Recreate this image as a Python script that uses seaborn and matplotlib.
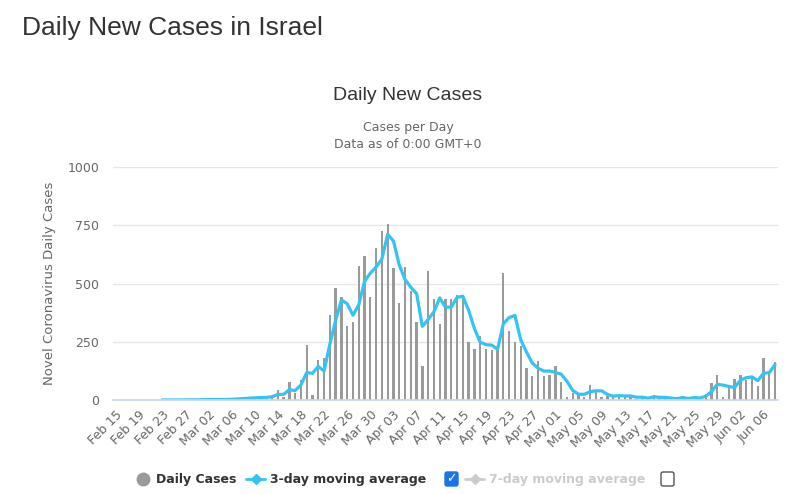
import numpy as np
import pandas as pd

import matplotlib
matplotlib.use("Agg")
import matplotlib.pyplot as plt
import seaborn as sns
from matplotlib.lines import Line2D
from matplotlib.patches import FancyBboxPatch
from matplotlib.transforms import IdentityTransform

# ---- data (Feb 15 .. Jun 08, 2020) ----
start_date = "2020-02-15"
end_date = "2020-06-08"
daily_cases = [
    None, None, None, None, None, None,                       # Feb 15-20
    1, 0, 0, 0, 0, 0, 1, 1, 0,                                # Feb 21-29
    3, 2, 1, 2, 4, 3, 6, 9, 8,                                # Mar 01-09
    10, 14, 9, 19, 43, 11, 79, 31, 85, 237,                   # Mar 10-19
    22, 172, 180, 366, 481, 440, 318, 334, 573, 620, 440, 652, 724, 757,  # Mar 20 - Apr 02
    566, 416, 570, 466, 334, 148, 555, 433, 327, 435, 434, 452, 450, 251,
    219, 274, 219, 214, 220, 545, 297, 247, 233, 139, 105, 166, 101, 106, 148,  # Apr 03 - May 01
    79, 14, 29, 32, 12, 63, 43, 12, 17, 20, 19, 13, 20, 3, 13, 7, 20, 9, 4,
    12, 1, 17, 2, 12, 12, 24, 72, 106, 14, 55, 92, 109, 86, 103, 60, 182, 110, 165,  # May 02 - Jun 08
]
tick_step = 4
y_ticks = [0, 250, 500, 750, 1000]

BAR_COLOR = "#9a9a9a"
LINE_COLOR = "#33c3f5"
TEXT_DARK = "#333333"
TEXT_MID = "#666666"
CHART_FONT = ["DejaVu Sans"]

dates = pd.date_range(start_date, end_date)
df = pd.DataFrame({"pos": np.arange(len(dates)),
                   "cases": pd.to_numeric(pd.Series(daily_cases), errors="coerce")})
df["ma3"] = df["cases"].rolling(3).mean()

sns.set_theme(style="white")
plt.rcParams["font.family"] = ["Liberation Sans", "DejaVu Sans"]

W, H = 800, 494
fig = plt.figure(figsize=(W / 100, H / 100), dpi=100)
fig.patch.set_facecolor("white")
ax = fig.add_axes([113 / W, 1 - 400 / H, (778 - 113) / W, (400 - 167) / H])

sns.barplot(data=df, x="pos", y="cases", native_scale=True, color=BAR_COLOR,
            width=0.4, saturation=1, edgecolor="none", ax=ax)
sns.lineplot(data=df, x="pos", y="ma3", color=LINE_COLOR, linewidth=2.3, ax=ax, legend=False)

ax.set_xlim(-0.5, len(dates) - 0.5)
ax.set_ylim(0, 1000)
ax.set_yticks(y_ticks)
ax.set_yticklabels([str(v) for v in y_ticks], color=TEXT_MID, fontsize=9, family=CHART_FONT)
ticks = list(range(0, len(dates), tick_step))
ax.set_xticks(ticks)
ax.set_xticklabels([dates[i].strftime("%b %d") for i in ticks], rotation=45, ha="right",
                   rotation_mode="anchor", color=TEXT_MID, fontsize=9, family=CHART_FONT)
ax.tick_params(axis="x", length=0, pad=6)
ax.tick_params(axis="y", length=0, pad=10)
ax.set_xlabel("")
ax.set_ylabel("Novel Coronavirus Daily Cases", color=TEXT_MID, fontsize=9.5,
              family=CHART_FONT, labelpad=8)
ax.grid(axis="y", color="#e6e6e6", linewidth=1)
ax.set_axisbelow(True)
for side in ("top", "right", "left"):
    ax.spines[side].set_visible(False)
ax.spines["bottom"].set_color("#ccd6eb")

# titles
fig.text(22 / W, 1 - 28 / H, "Daily New Cases in Israel", fontsize=19, color=TEXT_DARK, va="center")
fig.text(408 / W, 1 - 95 / H, "Daily New Cases", fontsize=14, color=TEXT_DARK, ha="center", va="center")
fig.text(408 / W, 1 - 128 / H, "Cases per Day", fontsize=9, color=TEXT_MID, ha="center", va="center",
         family=CHART_FONT)
fig.text(408 / W, 1 - 145 / H, "Data as of 0:00 GMT+0", fontsize=9, color=TEXT_MID, ha="center",
         va="center", family=CHART_FONT)

# legend (drawn by hand, with checkboxes)
ly = 1 - 479 / H
leg_kw = dict(fontsize=9, fontweight="bold", va="center", family=CHART_FONT)
fig.add_artist(Line2D([143 / W], [ly], marker="o", markersize=9, color=BAR_COLOR, linestyle="none"))
fig.text(156 / W, ly, "Daily Cases", color=TEXT_DARK, **leg_kw)
fig.add_artist(Line2D([246 / W, 265 / W], [ly, ly], color=LINE_COLOR, linewidth=2))
fig.add_artist(Line2D([255.5 / W], [ly], marker="D", markersize=5, color=LINE_COLOR, linestyle="none"))
fig.text(270 / W, ly, "3-day moving average", color=TEXT_DARK, **leg_kw)
fig.add_artist(Line2D([465 / W, 484 / W], [ly, ly], color="#cccccc", linewidth=2))
fig.add_artist(Line2D([474.5 / W], [ly], marker="D", markersize=5, color="#cccccc", linestyle="none"))
fig.text(489 / W, ly, "7-day moving average", color="#cccccc", **leg_kw)

cb_y = H - 486
fig.add_artist(FancyBboxPatch((445, cb_y), 13, 14, boxstyle="round,pad=0,rounding_size=2",
                              facecolor="#1a73e8", edgecolor="#1a73e8", transform=IdentityTransform()))
fig.text(451.5 / W, ly, "\u2713", fontsize=9, fontweight="bold", color="white", ha="center",
         va="center", family="DejaVu Sans")
fig.add_artist(FancyBboxPatch((661, cb_y), 13, 14, boxstyle="round,pad=0,rounding_size=2",
                              facecolor="white", edgecolor="#555555", linewidth=1,
                              transform=IdentityTransform()))

fig.savefig("out.png", dpi=100, facecolor="white")
plt.close(fig)
